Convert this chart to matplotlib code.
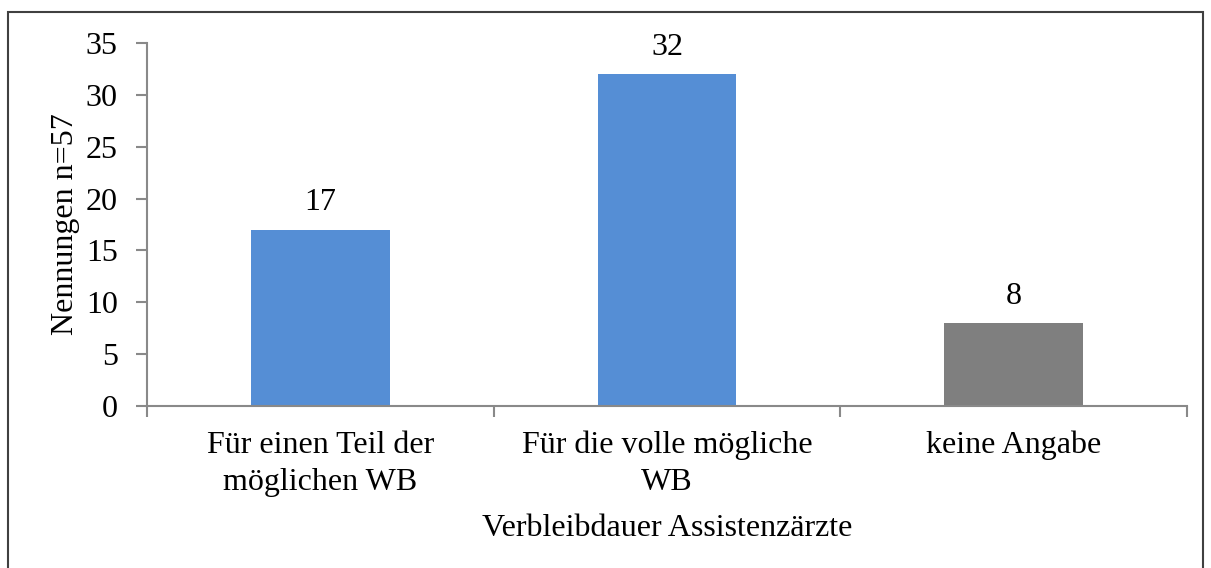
import matplotlib.pyplot as plt
import matplotlib.patches as mpatches
import numpy as np

# Verbleibdauer der Assistenzaerzte
categories = ["Für einen Teil der\nmöglichen WB",
              "Für die volle mögliche\nWB",
              "keine Angabe"]
counts = [17, 32, 8]
bar_colors = ["#558ED5", "#558ED5", "#7F7F7F"]
yticks = [0, 5, 10, 15, 20, 25, 30, 35]

plt.rcParams['font.family'] = ['Liberation Serif', 'DejaVu Serif']
FS = 23

fig = plt.figure(figsize=(12.11, 5.68), dpi=100)
ax = fig.add_axes([147 / 1211, 1 - 406 / 568, 1040 / 1211, 363 / 568])

x = np.arange(len(categories))
ax.bar(x, counts, width=0.4, color=bar_colors, zorder=2)

for xi, v in zip(x, counts):
    ax.text(xi, v + 1.2, str(v), ha='center', va='bottom', fontsize=FS)

ax.set_xlim(-0.5, len(categories) - 0.5)
ax.set_ylim(0, 35)
ax.set_yticks(yticks)
ax.tick_params(axis='y', labelsize=FS, length=8, width=1.5,
               color='#898989', pad=13)

# category labels between boundary ticks
ax.set_xticks(np.arange(-0.5, len(categories), 1.0))
ax.set_xticklabels([])
ax.tick_params(axis='x', which='major', length=8, width=1.5, color='#898989')
ax.set_xticks(x, minor=True)
ax.set_xticklabels(categories, minor=True, fontsize=FS, linespacing=1.35)
ax.tick_params(axis='x', which='minor', length=0, pad=18)

for side in ['top', 'right']:
    ax.spines[side].set_visible(False)
for side in ['left', 'bottom']:
    ax.spines[side].set_color('#898989')
    ax.spines[side].set_linewidth(1.5)

ax.set_ylabel('Nennungen n=57', fontsize=FS, labelpad=4)
ax.set_xlabel('Verbleibdauer Assistenzärzte', fontsize=FS, labelpad=12)

# outer frame
fig.patches.append(mpatches.Rectangle((8 / 1211, -0.01), 1195 / 1211, 1 - 12 / 568 + 0.01,
                                      transform=fig.transFigure, fill=False,
                                      edgecolor='#404040', linewidth=1.5))

plt.savefig('out.png', dpi=100)
